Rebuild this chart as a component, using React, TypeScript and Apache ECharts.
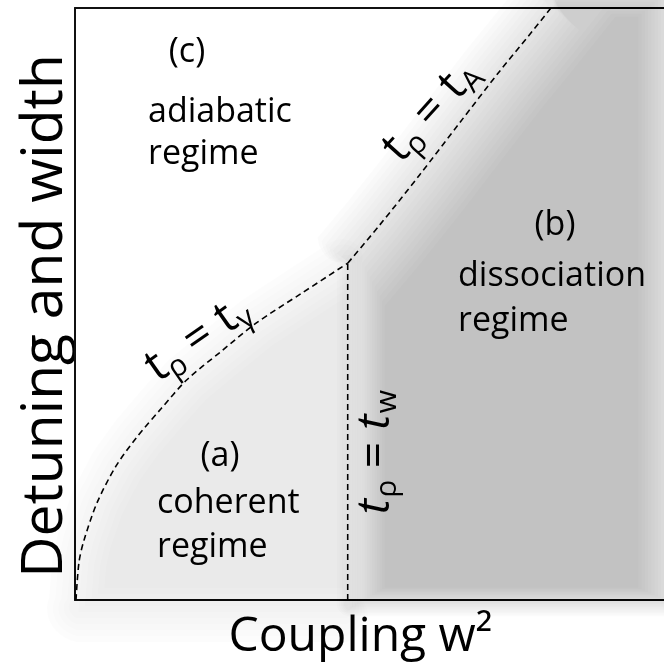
import React, { useEffect, useRef } from 'react';
import * as echarts from 'echarts';

// Boundary curves (coupling x: 0–100, detuning y: 0–100)
const gammaX = [0.17, 0.68, 1.53, 3.73, 6.95, 10.5, 14.6, 19.0, 24.7, 30.8, 38.3, 46.3];
const gammaY = [0, 6.4, 10.1, 16.4, 22.6, 27.5, 32.3, 37.2, 41.9, 46.8, 51.7, 56.9];
const wX = [46.3, 46.3];
const wY = [0, 56.9];
const aX = [46.3, 51.7, 58.5, 65.3, 72.0, 77.1, 80.8];
const aY = [56.9, 63.3, 71.8, 80.6, 89.2, 95.4, 100];
const axisMin = 0;
const axisMax = 100;

const FONT = '"Open Sans", "Noto Sans", sans-serif';

type Pt = number[];

function insetPolygon(pts: Pt[], offs: number[]): Pt[] {
  const n = pts.length;
  let area = 0;
  for (let i = 0; i < n; i++) {
    const p = pts[i], q = pts[(i + 1) % n];
    area += p[0] * q[1] - q[0] * p[1];
  }
  const lines: { px: number; py: number; dx: number; dy: number; nx: number; ny: number; o: number }[] = [];
  for (let i = 0; i < n; i++) {
    const p = pts[i], q = pts[(i + 1) % n];
    let dx = q[0] - p[0], dy = q[1] - p[1];
    const L = Math.hypot(dx, dy) || 1;
    dx /= L; dy /= L;
    let nx = -dy, ny = dx;
    if (area < 0) { nx = -nx; ny = -ny; }
    const o = offs[i];
    lines.push({ px: p[0] + nx * o, py: p[1] + ny * o, dx, dy, nx, ny, o });
  }
  const res: Pt[] = [];
  for (let i = 0; i < n; i++) {
    const a = lines[(i - 1 + n) % n], b = lines[i];
    const v = pts[i];
    const A = [v[0] + a.nx * a.o, v[1] + a.ny * a.o];
    const B = [v[0] + b.nx * b.o, v[1] + b.ny * b.o];
    const cr = a.dx * b.dy - a.dy * b.dx;
    const convex = cr * area > 0;
    if (a.o < 0 && b.o < 0 && convex) {
      // round join for outward offsets
      const angA = Math.atan2(A[1] - v[1], A[0] - v[0]);
      const angB = Math.atan2(B[1] - v[1], B[0] - v[0]);
      let d = angB - angA;
      while (d > Math.PI) d -= 2 * Math.PI;
      while (d < -Math.PI) d += 2 * Math.PI;
      const steps = Math.max(1, Math.ceil(Math.abs(d) / 0.15));
      for (let j = 0; j <= steps; j++) {
        const f = j / steps;
        const ang = angA + d * f;
        const r = Math.abs(a.o) + (Math.abs(b.o) - Math.abs(a.o)) * f;
        res.push([v[0] + r * Math.cos(ang), v[1] + r * Math.sin(ang)]);
      }
      continue;
    }
    if (Math.abs(cr) < 1e-6) { res.push(B); continue; }
    const t = ((b.px - a.px) * b.dy - (b.py - a.py) * b.dx) / cr;
    const M = [a.px + t * a.dx, a.py + t * a.dy];
    const dist = Math.hypot(M[0] - v[0], M[1] - v[1]);
    const mx = Math.max(Math.abs(a.o), Math.abs(b.o));
    if ((a.o < 0 || b.o < 0) && dist > 1.3 * mx + 2) {
      res.push(A, B);
    } else {
      res.push(M);
    }
  }
  return res;
}

function mathLabel(cx: number, cy: number, angleDeg: number, sub: string, italic: boolean) {
  const F = 46, S = 30;
  const st = italic ? 'italic' : 'normal';
  const parts = [
    { t: 't', x: 0, y: 0, f: F, s: st },
    { t: 'ρ', x: 0.36 * F, y: 0.3 * F, f: S, s: 'normal' },
    { t: '=', x: 1.0 * F, y: 0, f: F, s: 'normal' },
    { t: 't', x: 1.84 * F, y: 0, f: F, s: st },
    { t: sub, x: 2.2 * F, y: 0.3 * F, f: S, s: 'normal' },
  ];
  const eqCenter = 1.0 * F + 0.29 * F;
  return {
    type: 'group',
    x: cx,
    y: cy,
    rotation: (angleDeg * Math.PI) / 180,
    z: 100,
    children: parts.map((p) => ({
      type: 'text',
      x: p.x - eqCenter,
      y: p.y,
      z: 100,
      style: {
        text: p.t,
        fontSize: p.f,
        fontFamily: FONT,
        fontStyle: p.s,
        fill: '#000',
        lineHeight: p.f,
        align: 'left',
        verticalAlign: 'middle',
        textAlign: 'left',
        textVerticalAlign: 'middle',
      },
    })),
  };
}

function label(text: string, x: number, y: number, align: string) {
  return {
    type: 'text',
    x,
    y,
    z: 100,
    style: {
      text,
      fontSize: 34,
      fontFamily: FONT,
      fill: '#000',
      lineHeight: 36,
      align,
      verticalAlign: 'middle',
      textAlign: align,
      textVerticalAlign: 'middle',
    },
  };
}

export default function App() {
  const ref = useRef<HTMLDivElement>(null);
  useEffect(() => {
    if (!ref.current) return;
    const chart = echarts.init(ref.current, undefined, { renderer: 'svg' });

    const gammaPts = gammaX.map((x, i) => [x, gammaY[i]]);
    const wPts = wX.map((x, i) => [x, wY[i]]);
    const aPts = aX.map((x, i) => [x, aY[i]]);

    // shaded regions built from the boundary curves
    const coherentPts = [...gammaPts, [wX[0], wY[0]]];
    const coherentEdges = [
      ...gammaPts.slice(1).map(() => ({ s: -30, w: 60 })),
      { s: -15, w: 20 },
      { s: -45, w: 60 },
    ];
    const dissPts = [[wX[0], wY[0]], ...aPts, [axisMax, axisMax], [axisMax, axisMin]];
    const dissEdges = [
      { s: -12, w: 50 },
      ...aPts.slice(1).map(() => ({ s: -42, w: 100 })),
      { s: -50, w: 60 },
      { s: -38, w: 65 },
      { s: -17, w: 30 },
    ];
    const regions = [
      { pts: coherentPts, edges: coherentEdges, layers: 10, darkness: 0.105 },
      { pts: dissPts, edges: dissEdges, layers: 20, darkness: 0.28 },
    ];

    const dash = [6, 4];
    const lineBase = {
      type: 'line',
      showSymbol: false,
      symbol: 'none',
      z: 5,
      silent: true,
    };

    chart.setOption({
      animation: false,
      grid: { left: 75, top: 8, width: 590, height: 592, containLabel: false },
      xAxis: [
        {
          type: 'value', min: axisMin, max: axisMax, position: 'bottom',
          axisLine: { show: true, onZero: false, lineStyle: { color: '#111', width: 2 } },
          axisTick: { show: false }, axisLabel: { show: false }, splitLine: { show: false },
          name: 'Coupling w²', nameLocation: 'middle', nameGap: 8,
          nameTextStyle: { fontFamily: FONT, fontSize: 48, color: '#000', padding: [0, 18, 0, 0] },
        },
        {
          type: 'value', min: axisMin, max: axisMax, position: 'top',
          axisLine: { show: true, onZero: false, lineStyle: { color: '#111', width: 2 } },
          axisTick: { show: false }, axisLabel: { show: false }, splitLine: { show: false },
        },
      ],
      yAxis: {
        type: 'value', min: axisMin, max: axisMax,
        axisLine: { show: true, onZero: false, lineStyle: { color: '#111', width: 2 } },
        axisTick: { show: false }, axisLabel: { show: false }, splitLine: { show: false },
        name: 'Detuning and width', nameLocation: 'middle', nameGap: 7,
        nameTextStyle: { fontFamily: FONT, fontSize: 57, color: '#000', padding: [0, 24, 0, 0] },
      },
      series: [
        {
          type: 'custom',
          clip: false,
          silent: true,
          z: 1,
          data: [[0, 0], [1, 1]],
          encode: { x: 0, y: 1 },
          renderItem: (params: any, api: any) => {
            const r = regions[params.dataIndex];
            const px = r.pts.map((p) => api.coord(p));
            const a = 1 - Math.pow(1 - r.darkness, 1 / r.layers);
            const children: any[] = [];
            for (let k = 0; k < r.layers; k++) {
              const f = (k + 0.5) / r.layers;
              const offs = r.edges.map((e) => e.s + f * e.w);
              children.push({
                type: 'polygon',
                shape: { points: insetPolygon(px, offs) },
                style: { fill: `rgba(0,0,0,${a.toFixed(4)})` },
              });
            }
            return { type: 'group', children };
          },
        },
        { ...lineBase, name: 't_gamma', data: gammaPts, smooth: 0.3, lineStyle: { color: '#000', width: 1.6, type: dash } },
        { ...lineBase, name: 't_w', data: wPts, lineStyle: { color: '#000', width: 1.6, type: dash } },
        { ...lineBase, name: 't_A', data: aPts, smooth: 0.3, lineStyle: { color: '#000', width: 1.6, type: dash } },
      ],
      graphic: [
        label('(c)', 187, 49, 'center'),
        label('adiabatic', 148, 109, 'left'),
        label('regime', 148, 151, 'left'),
        label('(b)', 555, 222, 'center'),
        label('dissociation', 458, 273, 'left'),
        label('regime', 458, 318, 'left'),
        label('(a)', 220, 453, 'center'),
        label('coherent', 157, 500, 'left'),
        label('regime', 157, 544, 'left'),
        mathLabel(196, 334, 35, 'γ', false),
        mathLabel(427, 108, 48, 'A', false),
        mathLabel(371, 455, 90, 'w', true),
      ],
    });
    return () => chart.dispose();
  }, []);
  return <div ref={ref} style={{ position: 'fixed', left: 0, top: 0, width: 664, height: 664 }} />;
}
